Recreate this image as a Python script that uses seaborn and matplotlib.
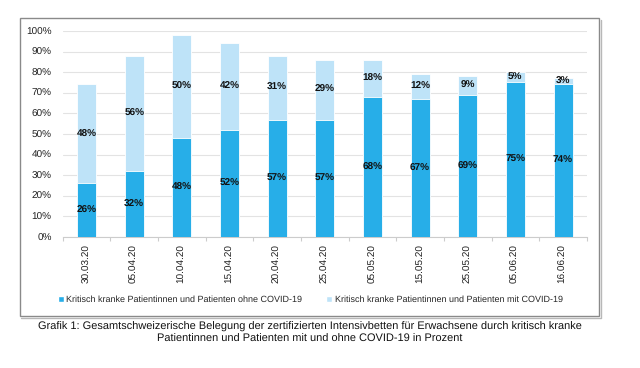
import numpy as np
import pandas as pd
import matplotlib
matplotlib.use("Agg")
import matplotlib.pyplot as plt
import seaborn as sns
from matplotlib.patches import Rectangle, Patch
from matplotlib.lines import Line2D

sns.set_theme(style="white")

plt.rcParams["font.family"] = ["Liberation Sans", "DejaVu Sans"]
plt.rcParams["text.hinting"] = "no_hinting"
plt.rcParams["text.hinting_factor"] = 1

# -------------------------------------------------
# Data
# -------------------------------------------------
dates = ["30.03.20", "05.04.20", "10.04.20", "15.04.20", "20.04.20", "25.04.20",
         "05.05.20", "15.05.20", "25.05.20", "05.06.20", "16.06.20"]
ohne_covid = [26, 32, 48, 52, 57, 57, 68, 67, 69, 75, 74]
mit_covid = [48, 56, 50, 42, 31, 29, 18, 12, 9, 5, 3]

label_ohne = "Kritisch kranke Patientinnen und Patienten ohne COVID-19"
label_mit = "Kritisch kranke Patientinnen und Patienten mit COVID-19"
caption = ("Grafik 1: Gesamtschweizerische Belegung der zertifizierten Intensivbetten für Erwachsene durch kritisch kranke\n"
           "Patientinnen und Patienten mit und ohne COVID-19 in Prozent")

DARK = "#27AEE8"
LIGHT = "#BEE3F8"

df = pd.DataFrame({"date": dates, "ohne": ohne_covid, "mit": mit_covid})
df["total"] = df["ohne"] + df["mit"]

# -------------------------------------------------
# Figure
# -------------------------------------------------
fig = plt.figure(figsize=(6.4, 3.68), dpi=100)
x0, y0, w, h = 0.031, 0.141, 0.905, 0.810
fig.patches.append(Rectangle((x0, y0), w, h, transform=fig.transFigure,
                             fill=False, edgecolor="#8a8a8a", linewidth=1.0))
# light shadow on the right and bottom edges
dx, dy = 1.5 / 640, 1.5 / 368
fig.add_artist(Line2D([x0 + dx, x0 + w + dx, x0 + w + dx], [y0 - dy, y0 - dy, y0 + h - dy],
                      transform=fig.transFigure, color="#b8b8b8", linewidth=1.0))

ax = fig.add_axes([0.098, 0.356, 0.819, 0.560])

sns.barplot(data=df, x="date", y="total", color=LIGHT, width=0.4,
            edgecolor="white", linewidth=0.6, saturation=1, ax=ax, zorder=2)
sns.barplot(data=df, x="date", y="ohne", color=DARK, width=0.4,
            edgecolor="white", linewidth=0.6, saturation=1, ax=ax, zorder=3)

for i, row in df.iterrows():
    ax.text(i, row["ohne"] / 2, f"{row['ohne']}%", ha="center", va="center",
            fontsize=7.5, fontweight="bold", color="#111111", zorder=4)
    ax.text(i, row["ohne"] + row["mit"] / 2, f"{row['mit']}%", ha="center", va="center",
            fontsize=7.5, fontweight="bold", color="#111111", zorder=4)

ax.set_ylim(0, 100)
ax.set_xlim(-0.5, len(dates) - 0.5)
ax.set_yticks(np.arange(0, 101, 10))
ax.set_yticklabels([f"{v}%" for v in range(0, 101, 10)], fontsize=7.5, color="#222222")
ax.set_xticks(range(len(dates)))
ax.set_xticklabels(dates, rotation=90, fontsize=7.5, color="#222222")
ax.set_xticks(np.arange(-0.5, len(dates), 1), minor=True)
ax.tick_params(axis="x", which="major", length=0, pad=5)
ax.tick_params(axis="x", which="minor", length=3, color="#cccccc", width=0.8, direction="out", bottom=True)
ax.tick_params(axis="y", length=0, pad=8)
ax.yaxis.grid(True, color="#e3e3e3", linewidth=0.8, zorder=0)
ax.set_axisbelow(True)
ax.set_xlabel("")
ax.set_ylabel("")
for s in ["top", "right", "left"]:
    ax.spines[s].set_visible(False)
ax.spines["bottom"].set_color("#cccccc")
ax.spines["bottom"].set_linewidth(0.8)

# legend
handles = [Patch(facecolor=DARK, label=label_ohne), Patch(facecolor=LIGHT, label=label_mit)]
fig.legend(handles=handles, loc="center", bbox_to_anchor=(0.485, 0.185), ncol=2,
           frameon=False, fontsize=6.7, handlelength=0.6, handleheight=0.6,
           handletextpad=0.3, columnspacing=2.6)

fig.text(0.484, 0.095, caption, ha="center", va="center", fontsize=7.8, color="#111111",
         linespacing=1.2)

fig.savefig("out.png", dpi=100)
